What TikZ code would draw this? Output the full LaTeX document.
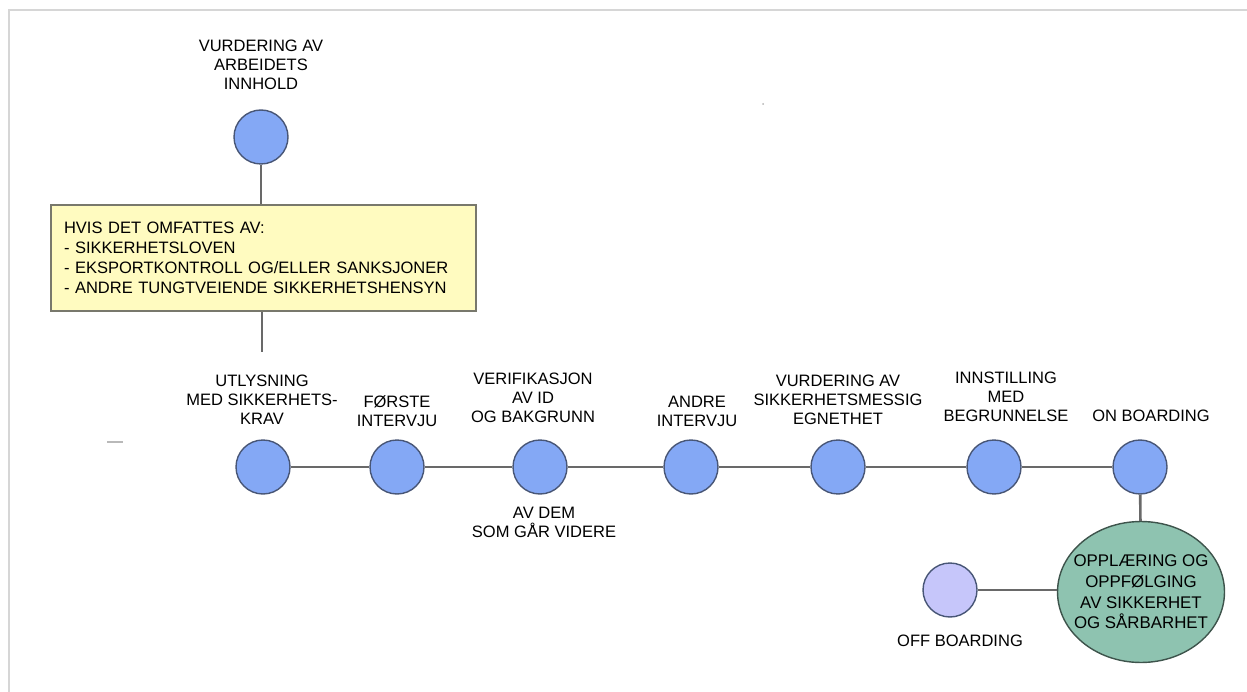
\documentclass[tikz,border=0pt]{standalone}
\usepackage{fontspec}
\setmainfont{Liberation Sans}
\usetikzlibrary{positioning,shapes.geometric}

\definecolor{stepblue}{RGB}{132,168,245}
\definecolor{stepedge}{RGB}{72,86,118}
\definecolor{offlilac}{RGB}{198,198,250}
\definecolor{careteal}{RGB}{142,195,176}
\definecolor{careedge}{RGB}{62,84,76}
\definecolor{notefill}{RGB}{255,251,192}
\definecolor{noteedge}{RGB}{120,120,108}
\definecolor{linkgray}{RGB}{105,105,105}
\definecolor{framegray}{RGB}{214,214,214}

\begin{document}
\begin{tikzpicture}[
  x=0.02cm, y=-0.02cm,
  phase/.style={circle, draw=stepedge, line width=0.8pt, fill=stepblue, minimum size=1.08cm, inner sep=0pt},
  txt/.style={align=center, inner sep=0pt, font=\fontsize{9.4}{11}\selectfont},
  note/.style={draw=noteedge, line width=0.8pt, fill=notefill, align=left, text width=7.98cm, inner xsep=0.26cm, minimum height=2.12cm, font=\fontsize{9.4}{11.4}\selectfont},
  care/.style={ellipse, draw=careedge, line width=0.8pt, fill=careteal, minimum width=3.34cm, minimum height=2.82cm, inner xsep=-0.2cm, inner ysep=0pt, align=center, font=\fontsize{9.6}{11.8}\selectfont},
  link/.style={draw=linkgray, line width=1.5pt}
]
\useasboundingbox (0,0) rectangle (1247,692);
\draw[framegray, line width=1.2pt] (9,692) -- (9,10) -- (1247,10);

% top branch
\node[phase] (arb) at (261,137) {};
\node[txt, above=0.38cm of arb] (arblab) {VURDERING AV\\ARBEIDETS\\INNHOLD};
\node[note] (krav) at (263.5,258) {HVIS DET OMFATTES AV:\\- SIKKERHETSLOVEN\\- EKSPORTKONTROLL OG/ELLER SANKSJONER\\- ANDRE TUNGTVEIENDE SIKKERHETSHENSYN};
\coordinate (kravend) at (262,352);

% main line
\node[phase] (utl) at (263,467) {};
\node[phase] (int1) at (397,467) {};
\node[phase] (ver) at (540,467) {};
\node[phase] (int2) at (691,467) {};
\node[phase] (egn) at (838,467) {};
\node[phase] (inn) at (994,467) {};
\node[phase] (onb) at (1140,467) {};

\node[txt, above=0.28cm of utl, xshift=-0.02cm] (utllab) {UTLYSNING\\MED SIKKERHETS-\\KRAV};
\node[txt, above=0.24cm of int1] (int1lab) {FØRSTE\\INTERVJU};
\node[txt, above=0.32cm of ver, xshift=-0.14cm] (verlab) {VERIFIKASJON\\AV ID\\OG BAKGRUNN};
\node[txt, below=0.24cm of ver, xshift=0.08cm] (verlab2) {AV DEM\\SOM GÅR VIDERE};
\node[txt, above=0.24cm of int2, xshift=0.12cm] (int2lab) {ANDRE\\INTERVJU};
\node[txt, above=0.28cm of egn] (egnlab) {VURDERING AV\\SIKKERHETSMESSIG\\EGNETHET};
\node[txt, above=0.34cm of inn, xshift=0.24cm] (innlab) {INNSTILLING\\MED\\BEGRUNNELSE};
\node[txt, above=0.34cm of onb, xshift=0.22cm] (onblab) {ON BOARDING};

% after on boarding
\node[care] (opp) at (1141,592) {OPPLÆRING OG\\OPPFØLGING\\AV SIKKERHET\\OG SÅRBARHET};
\node[phase, fill=offlilac] (offb) at (950,590) {};
\node[txt, below=0.34cm of offb, xshift=0.2cm] (offblab) {OFF BOARDING};

\draw[link] (arb) -- (arb |- krav.north);
\draw[link] (krav.south -| kravend) -- (kravend);
\draw[link] (utl) -- (int1);
\draw[link] (int1) -- (ver);
\draw[link] (ver) -- (int2);
\draw[link] (int2) -- (egn);
\draw[link] (egn) -- (inn);
\draw[link] (inn) -- (onb);
\draw[link] (onb) -- (opp);
\draw[link] (offb) -- (offb -| opp.west);

% stray marks
\draw[gray!55, line width=1pt] (107,442) -- (123,442);
\fill[gray!60] (763,104) circle (1);
\end{tikzpicture}
\end{document}
